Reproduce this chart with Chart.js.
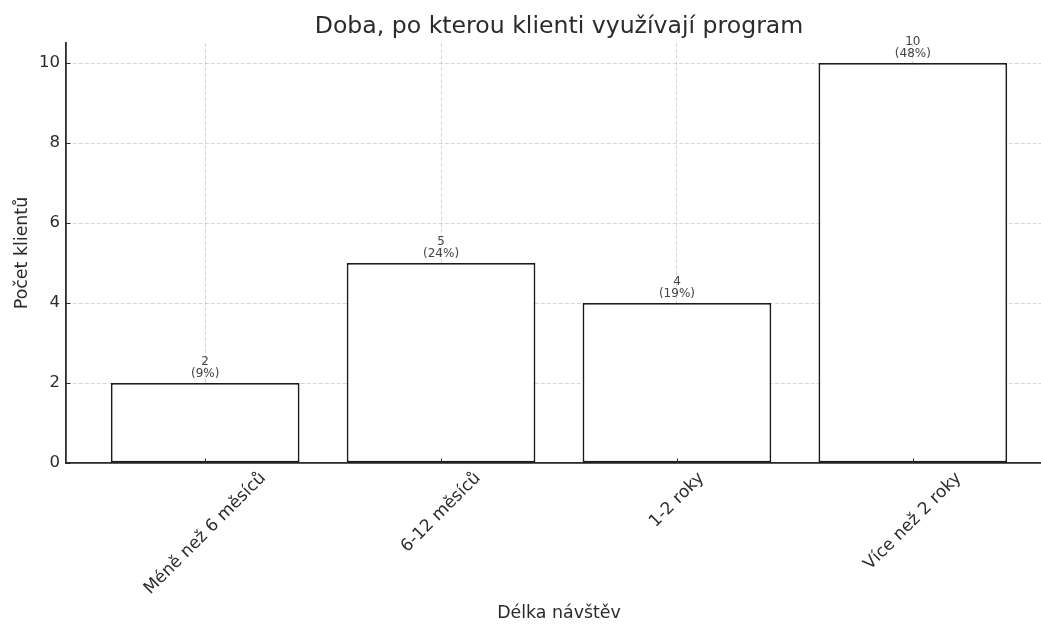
<!DOCTYPE html>
<html>
<head>
<meta charset="utf-8">
<script src="https://cdn.jsdelivr.net/npm/chart.js@4.4.0/dist/chart.umd.min.js"></script>
<style>
  html, body { margin: 0; padding: 0; background: #fff; overflow: hidden; }
  #wrap { width: 1041px; height: 624px; overflow: hidden; position: relative; }
  canvas { display: block; }
</style>
</head>
<body>
<div id="wrap"><canvas id="chart" width="1060" height="624"></canvas></div>
<script>
// Data
const categories = ['Méně než 6 měsíců', '6-12 měsíců', '1-2 roky', 'Více než 2 roky'];
const counts = [2, 5, 4, 10];
const shares = [9, 24, 19, 48];          // percent of all clients
const yTicks = [0, 2, 4, 6, 8, 10];

const FONT = '"DejaVu Sans", sans-serif';
const TEXT = '#2b2b2b';
const GRID = 'rgba(0,0,0,0.2)';

// Inward tick marks, rotated category labels and value labels above bars
const decor = {
  id: 'decor',
  afterDraw(chart) {
    const { ctx, chartArea: area, scales: { x, y } } = chart;
    ctx.save();

    ctx.strokeStyle = TEXT;
    ctx.lineWidth = 1;
    yTicks.forEach(v => {
      const py = Math.round(y.getPixelForValue(v)) + 0.5;
      ctx.beginPath();
      ctx.moveTo(area.left, py);
      ctx.lineTo(area.left + 4.5, py);
      ctx.stroke();
    });
    categories.forEach((_, i) => {
      const px = Math.round(x.getPixelForValue(i)) + 0.5;
      ctx.beginPath();
      ctx.moveTo(px, area.bottom);
      ctx.lineTo(px, area.bottom - 4.5);
      ctx.stroke();
    });

    // category labels, rotated 45°, centred under each tick
    const fs = 17;
    ctx.font = fs + 'px ' + FONT;
    ctx.fillStyle = TEXT;
    ctx.textAlign = 'center';
    ctx.textBaseline = 'middle';
    categories.forEach((t, i) => {
      const w = ctx.measureText(t).width;
      const h = fs * 1.164;
      const half = (w + h) * Math.SQRT1_2 / 2;
      const px = x.getPixelForValue(i);
      ctx.save();
      ctx.translate(px, area.bottom + 5.5 + half);
      ctx.rotate(-Math.PI / 4);
      ctx.fillText(t, 0, 0);
      ctx.restore();
    });

    // count and share above each bar
    const meta = chart.getDatasetMeta(0);
    ctx.font = '12px ' + FONT;
    ctx.fillStyle = '#444';
    meta.data.forEach((bar, i) => {
      ctx.fillText(String(counts[i]), bar.x, bar.y - 21.5);
      ctx.fillText('(' + shares[i] + '%)', bar.x, bar.y - 9.5);
    });

    ctx.restore();
  }
};

new Chart(document.getElementById('chart'), {
  type: 'bar',
  data: {
    datasets: [{
      data: counts.map((v, i) => ({ x: i, y: v })),
      backgroundColor: '#ffffff',
      borderColor: '#1a1a1a',
      borderWidth: 1.8,
      borderSkipped: false,
      categoryPercentage: 1,
      barPercentage: 0.8
    }]
  },
  options: {
    responsive: false,
    animation: false,
    devicePixelRatio: 1,
    layout: { padding: { left: 0, right: 8, top: 0, bottom: 0 } },
    plugins: {
      legend: { display: false },
      tooltip: { enabled: false },
      title: {
        display: true,
        fullSize: false,
        text: 'Doba, po kterou klienti využívají program',
        color: TEXT,
        font: { family: FONT, size: 23.6, weight: 'normal' },
        padding: { top: 13, bottom: 1.7 }
      }
    },
    scales: {
      x: {
        type: 'linear',
        min: -0.59,
        max: 3.59,
        offset: false,
        z: 1,
        afterBuildTicks: s => { s.ticks = categories.map((_, i) => ({ value: i })); },
        afterFit: s => { s.height = 161; },
        ticks: { display: false },
        grid: { color: GRID, lineWidth: 0.8, drawTicks: false, offset: false, borderDash: [4, 2] },
        border: { display: true, color: TEXT, width: 1.8, dash: [4, 2] },
        title: {
          display: true,
          text: 'Délka návštěv',
          color: TEXT,
          font: { family: FONT, size: 17.4 },
          padding: { top: 0, bottom: 0 }
        }
      },
      y: {
        min: 0,
        max: 10.5,
        z: 1,
        afterBuildTicks: s => { s.ticks = yTicks.map(v => ({ value: v })); },
        afterFit: s => { s.width = 66; },
        ticks: { color: TEXT, font: { family: FONT, size: 16.5 }, padding: 6 },
        grid: { color: GRID, lineWidth: 0.8, drawTicks: false, borderDash: [4, 2] },
        border: { display: true, color: TEXT, width: 1.8, dash: [4, 2] },
        title: {
          display: true,
          text: 'Počet klientů',
          color: TEXT,
          font: { family: FONT, size: 17.4 },
          padding: { top: 11.6, bottom: 0 }
        }
      }
    }
  },
  plugins: [decor]
});
</script>
</body>
</html>
